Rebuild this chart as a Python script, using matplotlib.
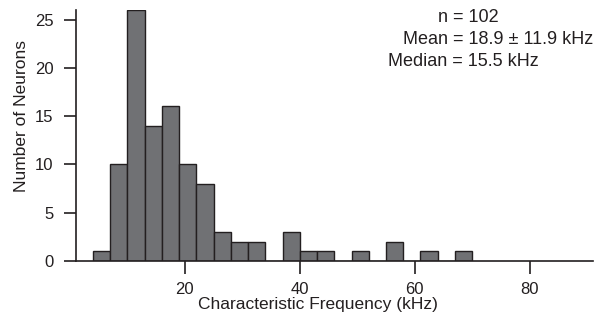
import numpy as np
import matplotlib
matplotlib.use("Agg")
import matplotlib.pyplot as plt

plt.rcParams["font.family"] = ["Liberation Sans", "DejaVu Sans"]

# histogram bins (kHz) and counts per bin
bin_edges = [4, 7, 10, 13, 16, 19, 22, 25, 28, 31, 34, 37, 40, 43, 46, 49, 52, 55, 58, 61, 64, 67, 70]
counts = [1, 10, 26, 14, 16, 10, 8, 3, 2, 2, 0, 3, 1, 1, 0, 1, 0, 2, 0, 1, 0, 1]
stats_lines = ["n = 102", "Mean = 18.9 \u00b1 11.9 kHz", "Median = 15.5 kHz"]

ink = "#231f20"
fig = plt.figure(figsize=(6.1, 3.22), dpi=100)
ax = fig.add_axes([0.124, 0.19, 0.848, 0.779])

edges = np.array(bin_edges, dtype=float)
ax.bar(edges[:-1], counts, width=np.diff(edges), align="edge",
       color="#707174", edgecolor=ink, linewidth=1.0)

ax.set_xlim(1, 91)
ax.set_ylim(0, 26)
ax.set_xticks([20, 40, 60, 80])
ax.set_yticks([0, 5, 10, 15, 20, 25])
for s in ["top", "right"]:
    ax.spines[s].set_visible(False)
for s in ["left", "bottom"]:
    ax.spines[s].set_color(ink)
    ax.spines[s].set_linewidth(1.2)
ax.tick_params(direction="out", length=9, width=1.2, color=ink,
               labelsize=12, labelcolor=ink)
ax.tick_params(axis="x", pad=6)
ax.tick_params(axis="y", pad=7)

ax.set_xlabel("Characteristic Frequency (kHz)", fontsize=12.5, color=ink)
ax.set_ylabel("Number of Neurons", fontsize=12.5, color=ink)
# label centres in figure pixels
ax.xaxis.set_label_coords(318 / 610, 1 - 305 / 322, transform=fig.transFigure)
ax.yaxis.set_label_coords(22 / 610, 1 - 116 / 322, transform=fig.transFigure)
ax.xaxis.label.set_va("center")
ax.yaxis.label.set_va("center")

# stats text, placed in figure pixels
fig.text(438 / 610, 1 - 17 / 322, stats_lines[0], ha="left", va="center", fontsize=13, color=ink)
fig.text(403 / 610, 1 - 40 / 322, stats_lines[1], ha="left", va="center", fontsize=13, color=ink)
fig.text(388 / 610, 1 - 62 / 322, stats_lines[2], ha="left", va="center", fontsize=13, color=ink)

fig.savefig("out.png", dpi=100)
